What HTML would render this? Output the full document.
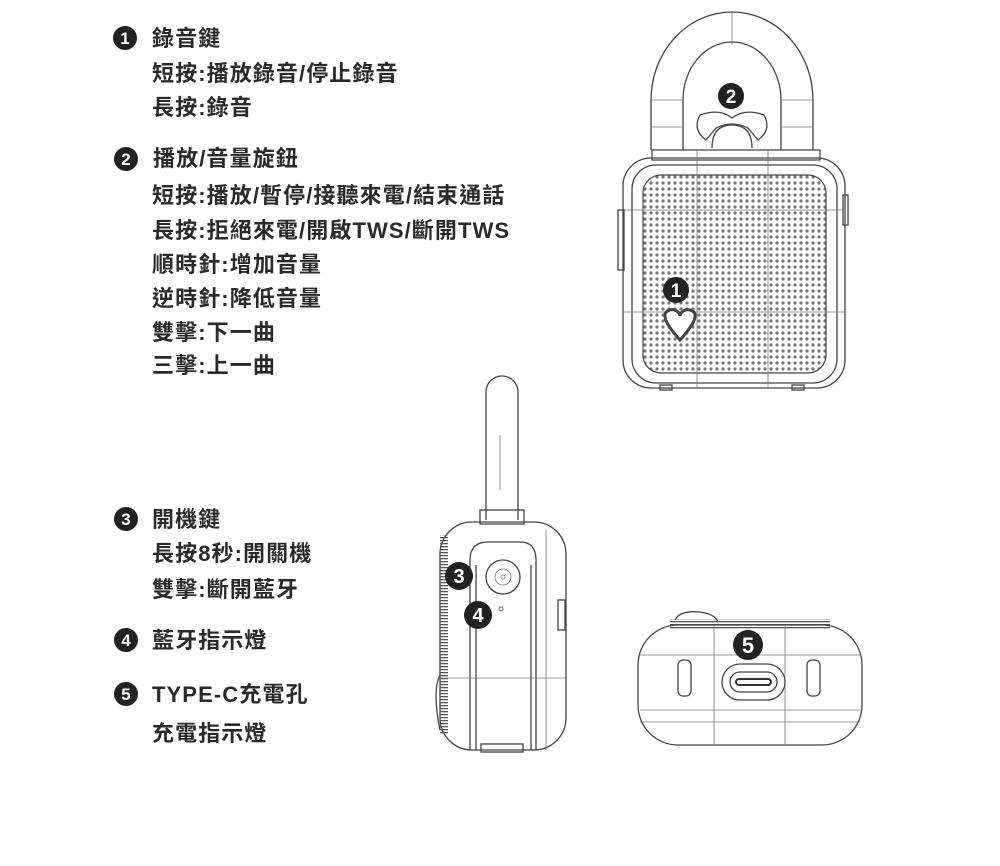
<!DOCTYPE html>
<html><head><meta charset="utf-8"><style>
html,body{margin:0;padding:0;background:#fff;}
svg{display:block}
.t{font-family:"Liberation Sans","Noto Sans CJK TC",sans-serif;font-weight:bold;font-size:22px;letter-spacing:1.1px;fill:#2a2a2a}
.n{font-family:"Liberation Sans",sans-serif;font-weight:bold;font-size:17px;fill:#fff;text-anchor:middle}
.l{fill:none;stroke:#444;stroke-width:1.3}
.f{fill:none;stroke:#777;stroke-width:0.8}
</style></head><body>
<svg width="1000" height="866" viewBox="0 0 1000 866" xmlns="http://www.w3.org/2000/svg">
<defs>
<pattern id="d" width="6" height="6" patternUnits="userSpaceOnUse"><circle cx="3" cy="3" r="1.6" fill="#777"/></pattern>
<pattern id="r" width="3" height="3" patternUnits="userSpaceOnUse"><rect width="3" height="1.3" fill="#555"/></pattern>
</defs>
<g>
<circle cx="125" cy="38" r="12" fill="#222"/><text class="n" x="125" y="44">1</text>
<text class="t" x="152" y="46">錄音鍵</text>
<text class="t" x="152" y="81">短按:播放錄音/停止錄音</text>
<text class="t" x="152" y="115">長按:錄音</text>
<circle cx="126" cy="159" r="12" fill="#222"/><text class="n" x="126" y="165">2</text>
<text class="t" x="153" y="166">播放/音量旋鈕</text>
<text class="t" x="152" y="203">短按:播放/暫停/接聽來電/結束通話</text>
<text class="t" x="152" y="238">長按:拒絕來電/開啟TWS/斷開TWS</text>
<text class="t" x="152" y="272">順時針:增加音量</text>
<text class="t" x="152" y="306">逆時針:降低音量</text>
<text class="t" x="152" y="340">雙擊:下一曲</text>
<text class="t" x="152" y="373">三擊:上一曲</text>
<circle cx="126" cy="519" r="12" fill="#222"/><text class="n" x="126" y="525">3</text>
<text class="t" x="152" y="527">開機鍵</text>
<text class="t" x="152" y="561">長按8秒:開關機</text>
<text class="t" x="152" y="597">雙擊:斷開藍牙</text>
<circle cx="126" cy="640" r="12" fill="#222"/><text class="n" x="126" y="646">4</text>
<text class="t" x="152" y="648">藍牙指示燈</text>
<circle cx="126" cy="694" r="12" fill="#222"/><text class="n" x="126" y="700">5</text>
<text class="t" x="152" y="702">TYPE-C充電孔</text>
<text class="t" x="152" y="741">充電指示燈</text>
</g>
<g>
<path class="l" d="M651 150 V100 A81 88 0 0 1 813 100 V150"/>
<path class="l" d="M683 150 V100 A49 58 0 0 1 781 100 V150"/>
<line class="f" x1="732" y1="12" x2="732" y2="45"/>
<line class="f" x1="651" y1="100" x2="683" y2="100"/><line class="f" x1="781" y1="100" x2="813" y2="100"/>
<line class="f" x1="651" y1="127" x2="683" y2="127"/><line class="f" x1="781" y1="127" x2="813" y2="127"/>
<path class="l" d="M700 115 Q720 108 732 118 Q745 108 764 115 Q772 130 758 140 L748 128 Q732 120 716 128 L706 140 Q692 130 700 115Z"/>
<path class="l" d="M712 148 Q712 125 732 125 Q752 125 752 148"/>
<path class="l" d="M652 150 H820 V160 H652Z"/>
<rect class="l" x="623" y="158" width="222" height="230" rx="28"/>
<rect class="l" x="632" y="165" width="205" height="218" rx="24"/>
<rect x="643" y="175" width="183" height="198" rx="18" fill="url(#d)" stroke="#444" stroke-width="1.2"/>
<line class="f" x1="697" y1="150" x2="697" y2="388"/><line class="f" x1="768" y1="150" x2="768" y2="388"/>
<line class="f" x1="623" y1="210" x2="845" y2="210"/><line class="f" x1="623" y1="312" x2="845" y2="312"/>
<rect class="l" x="618" y="210" width="6" height="60"/><rect class="l" x="843" y="195" width="5" height="30"/>
<path d="M680 340 C662 320 662 312 670 310 C676 308 680 314 680 316 C680 314 684 308 690 310 C698 312 698 320 680 340Z" fill="#fff" stroke="#444" stroke-width="3"/>
<circle cx="676" cy="290" r="13" fill="#222"/><text class="n" x="676" y="297" style="font-size:19px">1</text>
<circle cx="731" cy="96" r="13" fill="#222"/><text class="n" x="731" y="103" style="font-size:19px">2</text>
<rect class="l" x="660" y="385" width="12" height="5"/><rect class="l" x="792" y="385" width="12" height="5"/>
</g>
<g>
<path class="l" d="M486 520 V392 A16 16 0 0 1 518 392 V520"/>
<line class="f" x1="500" y1="435" x2="500" y2="490"/>
<rect class="l" x="480" y="510" width="44" height="14"/>
<rect class="l" x="440" y="522" width="126" height="228" rx="32"/>
<rect x="440" y="535" width="8" height="200" fill="url(#r)"/>
<path class="l" d="M470 750 V560 Q470 542 488 542 H520 Q536 542 536 560 V750"/>
<path class="l" d="M476 750 V565"/><path class="l" d="M531 750 V565"/>
<circle class="l" cx="503" cy="577" r="17"/><circle class="f" cx="503" cy="577" r="8"/><circle class="f" cx="503" cy="577" r="2"/>
<line class="f" x1="440" y1="678" x2="566" y2="678"/><line class="f" x1="546" y1="530" x2="546" y2="750"/>
<rect class="l" x="558" y="600" width="7" height="30"/>
<path class="l" d="M440 675 Q432 690 440 730"/>
<rect class="l" x="481" y="744" width="42" height="8"/>
<circle cx="501" cy="609" r="2" fill="none" stroke="#666"/>
<circle cx="459" cy="576" r="14" fill="#222"/><text class="n" x="459" y="583" style="font-size:20px">3</text>
<circle cx="478" cy="615" r="14" fill="#222"/><text class="n" x="478" y="622" style="font-size:20px">4</text>
</g>
<g>
<path class="l" d="M675 620 Q680 610 700 612 Q715 614 718 622"/>
<rect x="670" y="619" width="160" height="10" fill="url(#r)"/>
<rect class="l" x="638" y="625" width="224" height="120" rx="40"/>
<line class="f" x1="714" y1="625" x2="714" y2="745"/><line class="f" x1="785" y1="625" x2="785" y2="745"/>
<line class="f" x1="640" y1="655" x2="860" y2="655"/><line class="f" x1="640" y1="710" x2="860" y2="710"/>
<line class="f" x1="640" y1="722" x2="860" y2="722"/>
<rect class="l" x="678" y="660" width="13" height="36" rx="5"/>
<rect class="l" x="807" y="660" width="13" height="36" rx="5"/>
<rect class="l" x="722" y="664" width="63" height="36" rx="18"/>
<rect class="l" x="730" y="672" width="47" height="20" rx="10"/>
<rect x="736" y="679" width="35" height="6" rx="3" fill="none" stroke="#333" stroke-width="2"/>
<circle cx="748" cy="645" r="15" fill="#222"/><text class="n" x="748" y="653" style="font-size:22px">5</text>
</g>
</svg>
</body></html>
